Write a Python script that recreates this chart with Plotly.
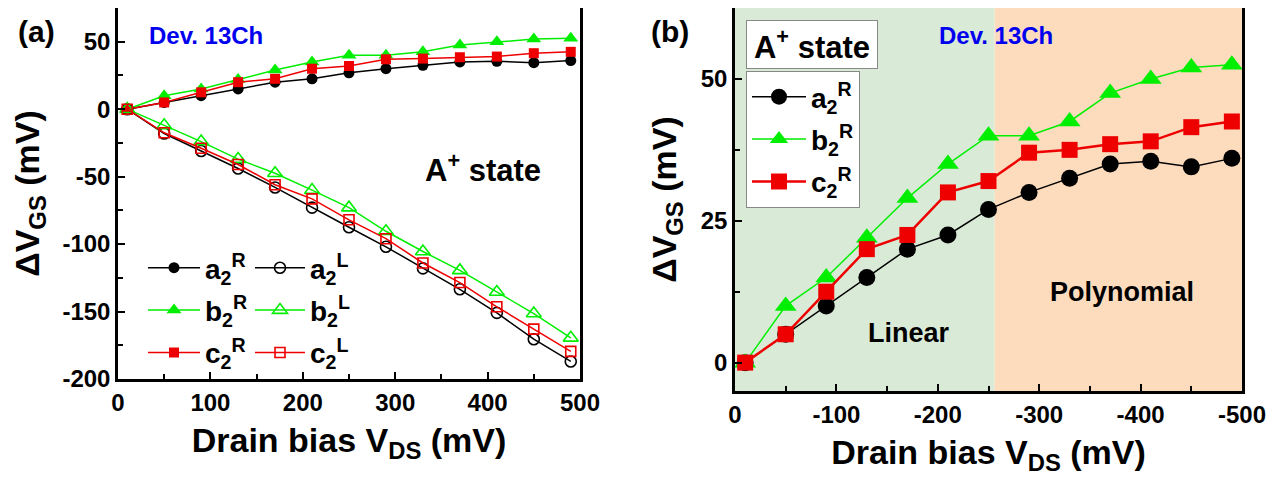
import plotly.graph_objects as go

# ---------------- data ----------------
vds_a = [10, 50, 90, 130, 170, 210, 250, 290, 330, 370, 410, 450, 490]
vds_b = [-10, -50, -90, -130, -170, -210, -250, -290, -330, -370, -410, -450, -490]

a2R = [0, 5, 10, 15, 20, 22.5, 27, 30, 32.5, 35, 35.5, 34.5, 36]
b2R = [0, 10, 15, 22, 29, 35, 40, 40, 42.5, 47.5, 50, 52, 52.5]
c2R = [0, 5, 12.5, 20, 22.5, 30, 32, 37, 37.5, 38.5, 39, 41.5, 42.5]

a2L = [0, -18, -31, -44, -58, -73, -87.5, -102, -118, -133.5, -151, -170.5, -187]
b2L = [0, -12, -24, -37, -47.5, -60, -73, -90.5, -105.5, -119.5, -135.5, -151.5, -169.5]
c2L = [0, -17.5, -29, -41, -56, -66.5, -82, -96, -114, -128.5, -146.5, -163, -179.5]

xa_ticks = [0, 100, 200, 300, 400, 500]
xa_text = ["0", "100", "200", "300", "400", "500"]
ya_ticks = [-200, -150, -100, -50, 0, 50]
ya_text = ["-200", "-150", "-100", "-50", "0", "50"]
xb_ticks = [0, -100, -200, -300, -400, -500]
xb_text = ["0", "-100", "-200", "-300", "-400", "-500"]
yb_ticks = [0, 25, 50]
yb_text = ["0", "25", "50"]

linear_end = -256  # boundary between Linear / Polynomial regions

names_R = ["a<sub>2</sub><sup>R</sup>", "b<sub>2</sub><sup>R</sup>", "c<sub>2</sub><sup>R</sup>"]
names_L = ["a<sub>2</sub><sup>L</sup>", "b<sub>2</sub><sup>L</sup>", "c<sub>2</sub><sup>L</sup>"]

# ---------------- styling ----------------
BLACK = "#000000"
GREEN = "#00EE00"
RED = "#EE0000"
FONT = "Liberation Sans, Arial, sans-serif"

OFF = 8  # page body margin
W, H = 1273, 475
ML, MR, MT, MB = 110, 39, 0, 92
PW, PH = W - ML - MR, H - MT - MB


def px(sx):
    return (sx - OFF - ML) / PW


def py(sy):
    return (OFF + H - MB - sy) / PH


fig = go.Figure()

colors = [BLACK, GREEN, RED]
sym_f = ["circle", "triangle-up", "square"]
sym_o = ["circle-open", "triangle-up-open", "square-open"]
size_a = [11, 13, 10]
Rs = [a2R, b2R, c2R]
Ls = [a2L, b2L, c2L]

for i in range(3):
    fig.add_trace(go.Scatter(
        x=vds_a, y=Rs[i], name=names_R[i], mode="lines+markers",
        line=dict(color=colors[i], width=1.5),
        marker=dict(symbol=sym_f[i], size=size_a[i], color=colors[i]),
        xaxis="x", yaxis="y", legend="legend", legendgroup="aR%d" % i))
for i in range(3):
    fig.add_trace(go.Scatter(
        x=vds_a, y=Ls[i], name=names_L[i], mode="lines+markers",
        line=dict(color=colors[i], width=1.5),
        marker=dict(symbol=sym_o[i], size=size_a[i], color=colors[i],
                    line=dict(width=1.6, color=colors[i])),
        xaxis="x", yaxis="y", legend="legend2", legendgroup="aL%d" % i))

size_b = [17, 19, 16]
lw_b = [1.5, 1.5, 2.5]
for i in range(3):
    fig.add_trace(go.Scatter(
        x=vds_b, y=Rs[i], name=names_R[i], mode="lines+markers",
        line=dict(color=colors[i], width=lw_b[i]),
        marker=dict(symbol=sym_f[i], size=size_b[i], color=colors[i]),
        xaxis="x2", yaxis="y2", legend="legend3", legendgroup="bR%d" % i))

# background regions in (b)
fig.add_shape(type="rect", xref="x2", yref="y2 domain", x0=0, x1=linear_end,
              y0=0, y1=1, fillcolor="#D9EBD7", line_width=0, layer="below")
fig.add_shape(type="rect", xref="x2", yref="y2 domain", x0=linear_end, x1=-500,
              y0=0, y1=1, fillcolor="#FDDCBD", line_width=0, layer="below")

axis_common = dict(
    showline=True, linewidth=2.5, linecolor="black", mirror=True,
    ticks="inside", ticklen=7, tickwidth=2, tickcolor="black",
    showgrid=False, zeroline=False,
    tickfont=dict(family=FONT, size=24, color="black", weight="bold"),
)
title_font = dict(family=FONT, size=34, color="black", weight="bold")
minor_common = dict(ticks="inside", ticklen=5, tickwidth=1.5, tickcolor="black")
leg_font = dict(family=FONT, size=28, color="black", weight="bold")

fig.update_layout(
    width=W, height=H,
    margin=dict(l=ML, r=MR, t=MT, b=MB, autoexpand=False),
    paper_bgcolor="white", plot_bgcolor="white",
    font=dict(family=FONT, color="black"),
    xaxis=dict(axis_common, domain=[0, px(580)], range=[0, 500],
               tickmode="array", tickvals=xa_ticks, ticktext=xa_text,
               minor=dict(minor_common, tickvals=[50, 150, 250, 350, 450]),
               title=dict(text="Drain bias V<sub>DS</sub> (mV)", font=title_font, standoff=14),
               anchor="y"),
    yaxis=dict(axis_common, domain=[py(379), 1], range=[-200, 75],
               tickmode="array", tickvals=ya_ticks, ticktext=ya_text,
               minor=dict(minor_common, tickvals=[-175, -125, -75, -25, 25, 75]),
               title=dict(text="ΔV<sub>GS</sub> (mV)", font=title_font, standoff=19),
               anchor="x"),
    xaxis2=dict(axis_common, domain=[px(735), 1], range=[0, -500],
                tickmode="array", tickvals=xb_ticks, ticktext=xb_text,
                minor=dict(minor_common, tickvals=[-50, -150, -250, -350, -450]),
                title=dict(text="Drain bias V<sub>DS</sub> (mV)", font=title_font, standoff=14),
                anchor="y2"),
    yaxis2=dict(axis_common, domain=[0, 1], range=[-5, 62.5],
                tickmode="array", tickvals=yb_ticks, ticktext=yb_text,
                minor=dict(minor_common, tickvals=[12.5, 37.5]),
                title=dict(text="ΔV<sub>GS</sub> (mV)", font=title_font, standoff=14),
                anchor="x2"),
    legend=dict(x=px(143), y=py(243), xanchor="left", yanchor="top",
                bgcolor="rgba(0,0,0,0)", borderwidth=0, font=leg_font,
                itemwidth=52, tracegroupgap=3),
    legend2=dict(x=px(250), y=py(243), xanchor="left", yanchor="top",
                 bgcolor="rgba(0,0,0,0)", borderwidth=0, font=leg_font,
                 itemwidth=50, tracegroupgap=3),
    legend3=dict(x=px(746), y=py(71), xanchor="left", yanchor="top",
                 bgcolor="white", bordercolor="#888888", borderwidth=1,
                 font=leg_font, itemwidth=54, tracegroupgap=3),
    showlegend=True,
)


def label(text, sx, sy, size, color="black", **kw):
    fig.add_annotation(text=text, xref="paper", yref="paper", x=px(sx), y=py(sy),
                       xanchor="center", yanchor="middle", showarrow=False,
                       font=dict(family=FONT, size=size, color=color, weight="bold"), **kw)


label("(a)", 36, 32, 30)
label("(b)", 670, 32, 30)
label("Dev. 13Ch", 206, 35, 24, color="#0000EE")
label("Dev. 13Ch", 996, 35, 24, color="#0000EE")
label("A<sup>+</sup> state", 483, 168, 31)
label("A<sup>+</sup> state", 812, 44, 31, bgcolor="white", bordercolor="#888888",
      borderwidth=1, width=126, height=43, borderpad=2)
label("Linear", 909, 333, 27)
label("Polynomial", 1122, 292, 27)

fig.write_html("out.html")
